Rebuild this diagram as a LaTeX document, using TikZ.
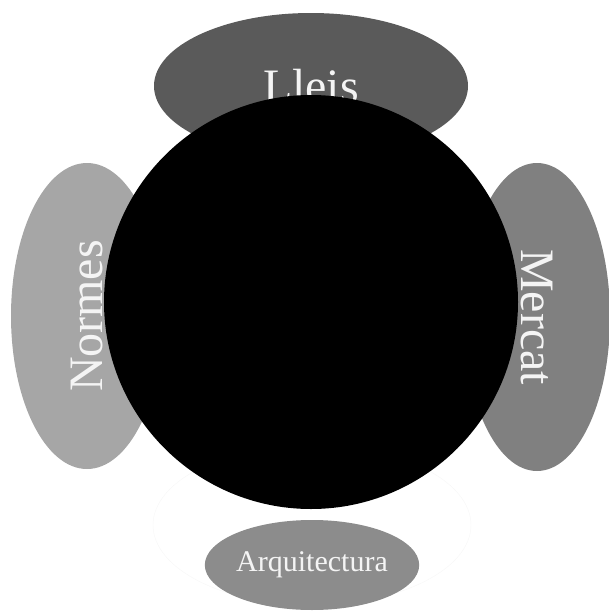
\documentclass[tikz,border=0pt]{standalone}
\usepackage{fontspec}
\setmainfont{Liberation Serif}
\usetikzlibrary{shapes.geometric}
\definecolor{lleisgray}{RGB}{90,90,90}
\definecolor{mercatgray}{RGB}{128,128,128}
\definecolor{normesgray}{RGB}{166,166,166}
\definecolor{arqgray}{RGB}{140,140,140}
\definecolor{labelwhite}{RGB}{244,244,244}

\begin{document}
\begin{tikzpicture}[x=1pt,y=-1pt,
  lobe/.style={ellipse,inner sep=0pt,text=labelwhite,font=\fontsize{48}{48}\selectfont}]
  \useasboundingbox (0,0) rectangle (608,613);
  \node[ellipse,draw=black!3,fill=white,minimum width=318pt,minimum height=160pt] (halo) at (312,525) {};
  \node[lobe,fill=lleisgray,minimum width=314pt,minimum height=146pt] (lleis) at (311,86) {Lleis};
  \node[lobe,fill=normesgray,rotate=90,minimum width=306pt,minimum height=152pt] (normes) at (87,316) {Normes};
  \node[lobe,fill=mercatgray,rotate=-90,minimum width=308pt,minimum height=146pt] (mercat) at (537,317) {Mercat};
  \node[lobe,fill=arqgray,minimum width=190pt,minimum height=90pt,font=\fontsize{30}{30}\selectfont] (arq) at (312,565) {Arquitectura};
  \node[circle,fill=black,inner sep=0pt,minimum size=414pt] (core) at (311,302) {};
\end{tikzpicture}
\end{document}
